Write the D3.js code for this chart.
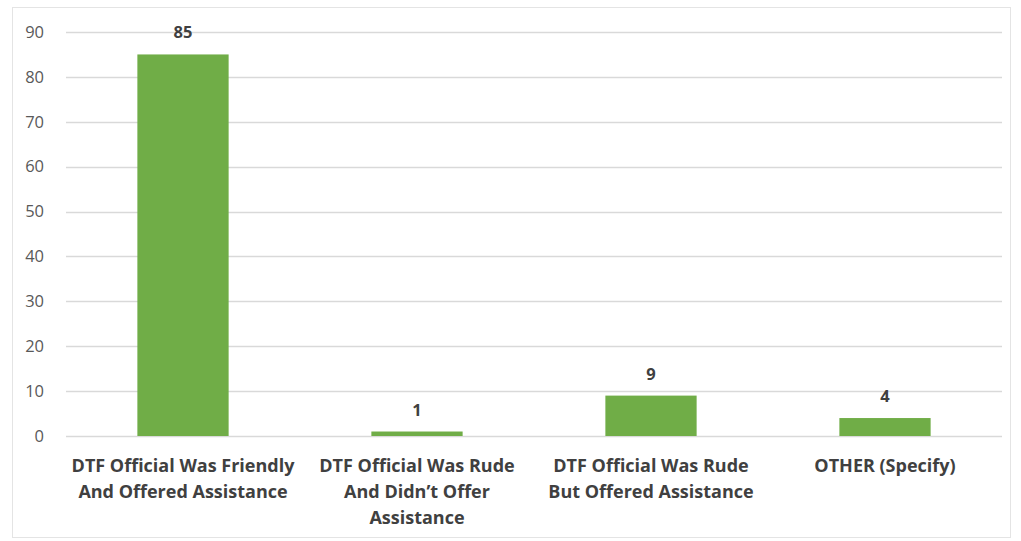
<!DOCTYPE html>
<html><head><meta charset="utf-8">
<script src="https://cdn.jsdelivr.net/npm/d3@7"></script>
<style>body{margin:0;background:#fff}svg{display:block}</style>
</head><body>
<svg id="c" width="1021" height="541"></svg>
<script>
const categories = [
  ["DTF Official Was Friendly", "And Offered Assistance"],
  ["DTF Official Was Rude", "And Didn\u2019t Offer", "Assistance"],
  ["DTF Official Was Rude", "But Offered Assistance"],
  ["OTHER (Specify)"]
];
const values = [85, 1, 9, 4];
const yTicks = [0, 10, 20, 30, 40, 50, 60, 70, 80, 90];

const svg = d3.select("#c");
const W = 1021, H = 541;
const m = {left: 66, right: 19, top: 32, bottom: 105};
const font = "'Open Sans', Lato, sans-serif";

svg.append("rect").attr("x", 12.5).attr("y", 7.5).attr("width", 998).attr("height", 530)
  .attr("fill", "#fff").attr("stroke", "#e4e4e4");

const x = d3.scaleBand().domain(d3.range(values.length)).range([m.left, W - m.right]).paddingInner(0.61).paddingOuter(0.305);
const y = d3.scaleLinear().domain([0, 90]).range([H - m.bottom, m.top]);

const g = svg.append("g");
g.selectAll("line.grid").data(yTicks).join("line").attr("class", "grid")
  .attr("x1", m.left).attr("x2", W - m.right)
  .attr("y1", d => Math.round(y(d)) + 0.5).attr("y2", d => Math.round(y(d)) + 0.5)
  .attr("stroke", "#d9d9d9").attr("stroke-width", 1.5);

const yAxis = svg.append("g").attr("transform", `translate(${m.left},0)`)
  .call(d3.axisLeft(y).tickValues(yTicks).tickSize(0).tickPadding(22));
yAxis.select(".domain").remove();
yAxis.selectAll("text").attr("font-family", font).attr("font-size", 16.5).attr("fill", "#595959");

g.selectAll("rect.bar").data(values).join("rect").attr("class", "bar")
  .attr("x", (d, i) => x(i)).attr("width", x.bandwidth())
  .attr("y", d => y(d)).attr("height", d => y(0) - y(d))
  .attr("fill", "#70ad47");

g.selectAll("text.val").data(values).join("text").attr("class", "val")
  .attr("x", (d, i) => x(i) + x.bandwidth() / 2).attr("y", d => y(d) - 16)
  .attr("text-anchor", "middle").attr("font-family", font).attr("font-size", 16.5)
  .attr("font-weight", "bold").attr("fill", "#404040").text(d => d);

const cat = g.selectAll("text.cat").data(categories).join("text").attr("class", "cat")
  .attr("x", (d, i) => x(i) + x.bandwidth() / 2).attr("y", y(0) + 36)
  .attr("text-anchor", "middle").attr("font-family", font).attr("font-size", 18)
  .attr("font-weight", "bold").attr("fill", "#404040");
cat.each(function(d, i) {
  const t = d3.select(this);
  d.forEach((line, j) => {
    t.append("tspan").attr("x", x(i) + x.bandwidth() / 2).attr("dy", j === 0 ? 0 : 26).text(line);
  });
});
</script>
</body></html>
